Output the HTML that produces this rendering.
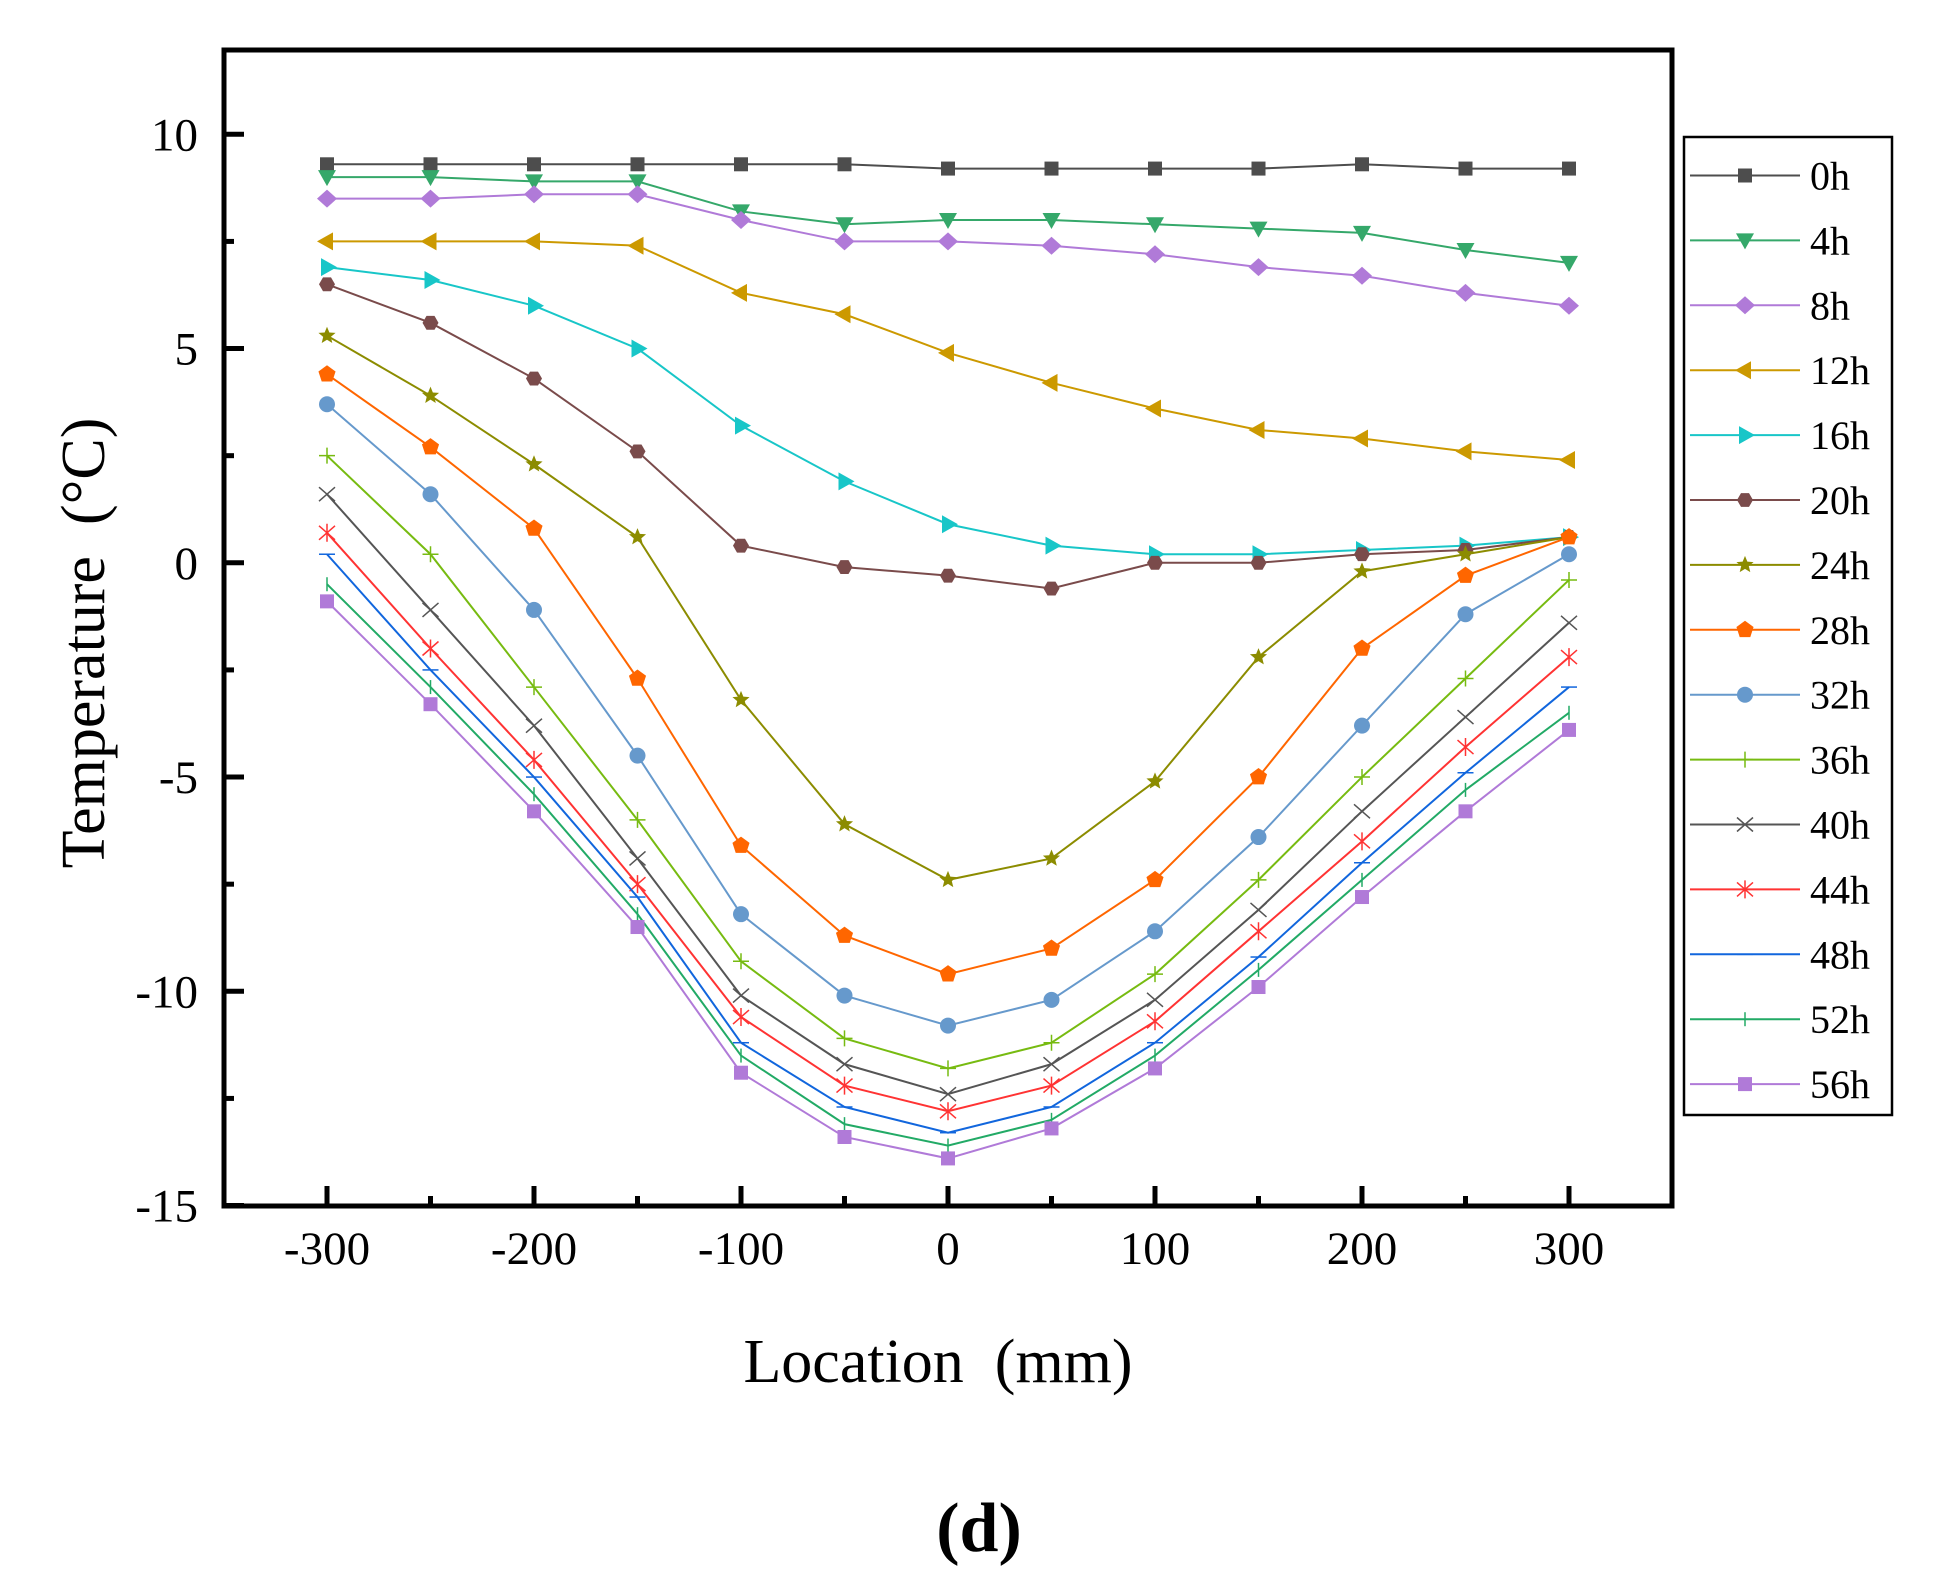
<!DOCTYPE html>
<html><head><meta charset="utf-8"><style>
html,body{margin:0;padding:0;background:#fff;}
svg{display:block;font-family:"Liberation Serif",serif;}
</style></head><body>
<svg id="chart" width="1942" height="1595" viewBox="0 0 1942 1595" xmlns="http://www.w3.org/2000/svg">
<rect width="1942" height="1595" fill="#fff"/>
<g id="plot"></g>
<g id="axes"></g>
<g id="legend"></g>
<text transform="translate(104,643) rotate(-90)" text-anchor="middle" font-size="62" xml:space="preserve">Temperature  (°C)</text>
<text x="938" y="1382" text-anchor="middle" font-size="62" xml:space="preserve">Location  (mm)</text>
<text x="979" y="1551" text-anchor="middle" font-size="70" font-weight="bold">(d)</text>
</svg>
<script>
const locations=[-300,-250,-200,-150,-100,-50,0,50,100,150,200,250,300];
const seriesNames=["0h","4h","8h","12h","16h","20h","24h","28h","32h","36h","40h","44h","48h","52h","56h"];
const s0h=[9.3,9.3,9.3,9.3,9.3,9.3,9.2,9.2,9.2,9.2,9.3,9.2,9.2];
const s4h=[9.0,9.0,8.9,8.9,8.2,7.9,8.0,8.0,7.9,7.8,7.7,7.3,7.0];
const s8h=[8.5,8.5,8.6,8.6,8.0,7.5,7.5,7.4,7.2,6.9,6.7,6.3,6.0];
const s12h=[7.5,7.5,7.5,7.4,6.3,5.8,4.9,4.2,3.6,3.1,2.9,2.6,2.4];
const s16h=[6.9,6.6,6.0,5.0,3.2,1.9,0.9,0.4,0.2,0.2,0.3,0.4,0.6];
const s20h=[6.5,5.6,4.3,2.6,0.4,-0.1,-0.3,-0.6,0,0,0.2,0.3,0.6];
const s24h=[5.3,3.9,2.3,0.6,-3.2,-6.1,-7.4,-6.9,-5.1,-2.2,-0.2,0.2,0.6];
const s28h=[4.4,2.7,0.8,-2.7,-6.6,-8.7,-9.6,-9.0,-7.4,-5.0,-2.0,-0.3,0.6];
const s32h=[3.7,1.6,-1.1,-4.5,-8.2,-10.1,-10.8,-10.2,-8.6,-6.4,-3.8,-1.2,0.2];
const s36h=[2.5,0.2,-2.9,-6.0,-9.3,-11.1,-11.8,-11.2,-9.6,-7.4,-5.0,-2.7,-0.4];
const s40h=[1.6,-1.1,-3.8,-6.9,-10.1,-11.7,-12.4,-11.7,-10.2,-8.1,-5.8,-3.6,-1.4];
const s44h=[0.7,-2.0,-4.6,-7.5,-10.6,-12.2,-12.8,-12.2,-10.7,-8.6,-6.5,-4.3,-2.2];
const s48h=[0.2,-2.5,-5.0,-7.8,-11.2,-12.7,-13.3,-12.7,-11.2,-9.2,-7.0,-4.9,-2.9];
const s52h=[-0.5,-2.9,-5.4,-8.2,-11.5,-13.1,-13.6,-13.0,-11.5,-9.5,-7.4,-5.3,-3.5];
const s56h=[-0.9,-3.3,-5.8,-8.5,-11.9,-13.4,-13.9,-13.2,-11.8,-9.9,-7.8,-5.8,-3.9];
const xTicks=[-300,-200,-100,0,100,200,300];
const yTicks=[10,5,0,-5,-10,-15];

const allSeries=[s0h,s4h,s8h,s12h,s16h,s20h,s24h,s28h,s32h,s36h,s40h,s44h,s48h,s52h,s56h];
const colors=["#4d4d4d","#35a86a","#b07ad8","#cc9900","#18c6c8","#7a4b4b","#8c8c00","#ff6600","#6699cc","#77bb11","#555555","#ff3333","#1166dd","#22aa66","#b07ad8"];
const shapes=["square","tridown","diamond","trileft","triright","hex","star","pent","circle","plus","x","asterisk","hdash","vdash","square"];

const NS="http://www.w3.org/2000/svg";
const L=224,R=1672,T=50,B=1206;
const X0=327,XPER=2.07;
const Y10=134.3,YPER=42.85;
function xs(v){return X0+(v+300)*XPER;}
function ys(v){return Y10+(10-v)*YPER;}
function mk(tag,attrs,parent){const e=document.createElementNS(NS,tag);for(const k in attrs)e.setAttribute(k,attrs[k]);parent.appendChild(e);return e;}

function marker(shape,cx,cy,c,parent){
  const r=8;let e;
  if(shape==="square"){e=mk("rect",{x:cx-7,y:cy-7,width:14,height:14,fill:c},parent);}
  else if(shape==="tridown"){e=mk("polygon",{points:`${cx-9},${cy-7} ${cx+9},${cy-7} ${cx},${cy+9}`,fill:c},parent);}
  else if(shape==="diamond"){e=mk("polygon",{points:`${cx},${cy-9} ${cx+10},${cy} ${cx},${cy+9} ${cx-10},${cy}`,fill:c},parent);}
  else if(shape==="trileft"){e=mk("polygon",{points:`${cx+6},${cy-9} ${cx+6},${cy+9} ${cx-10},${cy}`,fill:c},parent);}
  else if(shape==="triright"){e=mk("polygon",{points:`${cx-6},${cy-9} ${cx-6},${cy+9} ${cx+10},${cy}`,fill:c},parent);}
  else if(shape==="hex"){let p=[];for(let i=0;i<6;i++){const a=Math.PI/3*i;p.push((cx+r*Math.cos(a))+","+(cy+r*Math.sin(a)));}e=mk("polygon",{points:p.join(" "),fill:c},parent);}
  else if(shape==="star"){let p=[];for(let i=0;i<10;i++){const a=-Math.PI/2+Math.PI/5*i;const rr=i%2?4:9;p.push((cx+rr*Math.cos(a))+","+(cy+rr*Math.sin(a)));}e=mk("polygon",{points:p.join(" "),fill:c},parent);}
  else if(shape==="pent"){let p=[];for(let i=0;i<5;i++){const a=-Math.PI/2+2*Math.PI/5*i;p.push((cx+9*Math.cos(a))+","+(cy+9*Math.sin(a)));}e=mk("polygon",{points:p.join(" "),fill:c},parent);}
  else if(shape==="circle"){e=mk("circle",{cx:cx,cy:cy,r:8,fill:c},parent);}
  else if(shape==="plus"){e=mk("path",{d:`M${cx-8},${cy}H${cx+8}M${cx},${cy-8}V${cy+8}`,stroke:c,"stroke-width":1.5,fill:"none"},parent);}
  else if(shape==="x"){e=mk("path",{d:`M${cx-8},${cy-7}L${cx+8},${cy+7}M${cx-8},${cy+7}L${cx+8},${cy-7}`,stroke:c,"stroke-width":1.5,fill:"none"},parent);}
  else if(shape==="asterisk"){e=mk("path",{d:`M${cx-8},${cy-7}L${cx+8},${cy+7}M${cx-8},${cy+7}L${cx+8},${cy-7}M${cx},${cy-9}V${cy+9}`,stroke:c,"stroke-width":1.5,fill:"none"},parent);}
  else if(shape==="hdash"){e=mk("path",{d:`M${cx-8},${cy}H${cx+8}`,stroke:c,"stroke-width":1.5},parent);}
  else if(shape==="vdash"){e=mk("path",{d:`M${cx},${cy-7}V${cy+7}`,stroke:c,"stroke-width":1.5},parent);}
  return e;
}

const plot=document.getElementById("plot");
allSeries.forEach((vals,si)=>{
  const g=mk("g",{},plot);
  
  
  const pts=vals.map((v,i)=>xs(locations[i])+","+ys(v)).join(" ");
  const line=mk("polyline",{points:pts,fill:"none",stroke:colors[si],"stroke-width":2},g);
  
  
  vals.forEach((v,i)=>{
    const m=marker(shapes[si],xs(locations[i]),ys(v),colors[si],g);
    
    
  });
});

const axes=document.getElementById("axes");
const frame=mk("rect",{x:L,y:T,width:R-L,height:B-T,fill:"none",stroke:"#000","stroke-width":5},axes);


xTicks.forEach(v=>{
  const x=xs(v);
  const t=mk("line",{x1:x,y1:B,x2:x,y2:B-20,stroke:"#000","stroke-width":5},axes);
  
  
  const lb=mk("text",{x:x,y:B+58,"text-anchor":"middle","font-size":47},axes);
  lb.textContent=v;
  
  
  if(v<300){const mx=xs(v+50);
    const m=mk("line",{x1:mx,y1:B,x2:mx,y2:B-10,stroke:"#000","stroke-width":5},axes);
    
    }
});
yTicks.forEach(v=>{
  const y=ys(v);
  const t=mk("line",{x1:L,y1:y,x2:L+20,y2:y,stroke:"#000","stroke-width":5},axes);
  
  
  const lb=mk("text",{x:198,y:y+16,"text-anchor":"end","font-size":47},axes);
  lb.textContent=v;
  
  
  if(v>-15){const my=ys(v-2.5);
    const m=mk("line",{x1:L,y1:my,x2:L+10,y2:my,stroke:"#000","stroke-width":5},axes);
    
    }
});

const leg=document.getElementById("legend");
const box=mk("rect",{x:1684,y:137,width:208,height:978,fill:"#fff",stroke:"#000","stroke-width":2.5},leg);


seriesNames.forEach((n,i)=>{
  const y=175.5+i*64.9;
  const g=mk("g",{},leg);
  
  
  mk("line",{x1:1690,y1:y,x2:1800,y2:y,stroke:colors[i],"stroke-width":2},g);
  marker(shapes[i],1745,y,colors[i],g);
  const t=mk("text",{x:1810,y:y+14,"font-size":40},g);
  t.textContent=n;
});
</script>
</body></html>
